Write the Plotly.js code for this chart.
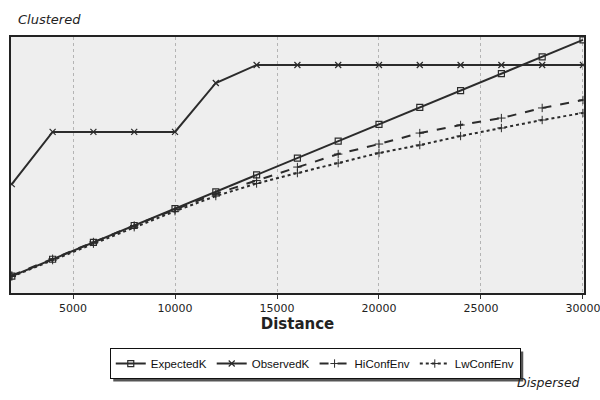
<!DOCTYPE html>
<html>
<head>
<meta charset="utf-8">
<script src="https://cdn.plot.ly/plotly-3.0.1.min.js"></script>
<style>html,body{margin:0;padding:0;background:#fff;}#chart{width:600px;height:400px;}</style>
</head>
<body>
<div id="chart"></div>
<script>
const distance = [2000, 4000, 6000, 8000, 10000, 12000, 14000, 16000, 18000, 20000, 22000, 24000, 26000, 28000, 30000];
const expectedK = [2000, 4000, 6000, 8000, 10000, 12000, 14000, 16000, 18000, 20000, 22000, 24000, 26000, 28000, 30000];
const observedK = [12900, 19100, 19100, 19100, 19100, 24900, 27030, 27030, 27030, 27030, 27030, 27030, 27030, 27030, 27030];
const hiConfEnv = [2080, 4060, 6050, 8000, 9900, 11760, 13340, 14930, 16470, 17660, 18960, 19920, 20740, 21940, 22880];
const lwConfEnv = [1950, 3900, 5850, 7800, 9700, 11490, 12980, 14220, 15400, 16600, 17540, 18610, 19560, 20510, 21340];
const xTicks = [5000, 10000, 15000, 20000, 25000, 30000];

const lineColor = '#2b2b2b';
const traces = [
  {x: distance, y: expectedK, name: 'ExpectedK', mode: 'lines+markers',
   line: {color: lineColor, width: 2}, marker: {symbol: 'square-open', size: 6, color: lineColor, line: {width: 1.2}}},
  {x: distance, y: observedK, name: 'ObservedK', mode: 'lines+markers',
   line: {color: lineColor, width: 2}, marker: {symbol: 'x-thin-open', size: 6, color: lineColor, line: {width: 1.2, color: lineColor}}},
  {x: distance, y: hiConfEnv, name: 'HiConfEnv', mode: 'lines+markers',
   line: {color: lineColor, width: 2, dash: 'dash'}, marker: {symbol: 'cross-thin-open', size: 6, color: lineColor, line: {width: 1, color: lineColor}}},
  {x: distance, y: lwConfEnv, name: 'LwConfEnv', mode: 'lines+markers',
   line: {color: lineColor, width: 2, dash: 'dot'}, marker: {symbol: 'cross-thin-open', size: 6, color: lineColor, line: {width: 1, color: lineColor}}}
];

const layout = {
  width: 600, height: 400,
  margin: {l: 11, r: 16, t: 37, b: 107},
  paper_bgcolor: '#ffffff',
  plot_bgcolor: '#eeeeee',
  font: {family: 'DejaVu Sans, Verdana, sans-serif', size: 11, color: '#222'},
  showlegend: true,
  xaxis: {
    range: [1960, 30050],
    tickvals: xTicks,
    ticktext: xTicks.map(String),
    ticklabeloverflow: 'allow',
    ticks: 'outside', ticklen: 4, tickcolor: '#333',
    showgrid: true, gridcolor: '#b4b4b4', griddash: 'dot', gridwidth: 1,
    showline: true, linecolor: '#222', linewidth: 2, mirror: true,
    zeroline: false,
    tickfont: {family: 'DejaVu Sans, Verdana, sans-serif', size: 11, color: '#222'},
    title: {text: 'Distance', font: {family: 'DejaVu Sans, Verdana, sans-serif', size: 15, color: '#222', weight: 'bold'}, standoff: 4}
  },
  yaxis: {
    range: [0, 30350],
    showticklabels: false, ticks: '',
    showgrid: false, zeroline: false,
    showline: true, linecolor: '#222', linewidth: 2, mirror: true
  },
  legend: {
    orientation: 'h',
    x: 0.531, xanchor: 'center',
    y: -0.215, yanchor: 'top',
    bgcolor: '#ffffff', bordercolor: '#111', borderwidth: 1,
    font: {family: 'Liberation Sans, Arial, sans-serif', size: 11.5, color: '#111'},
    itemwidth: 30,
    tracegroupgap: 0
  },
  annotations: [
    {text: 'Clustered', xref: 'paper', yref: 'paper', x: 0.0085, y: 1.07, xanchor: 'left', yanchor: 'middle',
     showarrow: false, font: {family: 'DejaVu Sans, Verdana, sans-serif', size: 13, style: 'italic', color: '#222'}},
    {text: 'Dispersed', xref: 'paper', yref: 'paper', x: 0.997, y: -0.35, xanchor: 'right', yanchor: 'middle',
     showarrow: false, font: {family: 'DejaVu Sans, Verdana, sans-serif', size: 12.5, style: 'italic', color: '#222'}}
  ]
};

Plotly.newPlot('chart', traces, layout, {displayModeBar: false, staticPlot: true}).then(function (gd) {
  // drop shadow behind the legend box, sized from the legend Plotly drew
  const bg = gd.querySelector('.legend .bg');
  if (!bg) return;
  const r = bg.getBoundingClientRect();
  const c = gd.getBoundingClientRect();
  const fs = gd._fullLayout._size;
  const toPx = function (px) { return (px - fs.l) / fs.w; };
  const toPy = function (py) { return (fs.t + fs.h - py) / fs.h; };
  const off = 3;
  Plotly.relayout(gd, {shapes: [{
    type: 'rect', xref: 'paper', yref: 'paper', layer: 'above',
    x0: toPx(r.left - c.left + off), x1: toPx(r.right - c.left + off),
    y0: toPy(r.top - c.top + off), y1: toPy(r.bottom - c.top + off),
    fillcolor: '#555', line: {width: 0}
  }]});
});
</script>
</body>
</html>
